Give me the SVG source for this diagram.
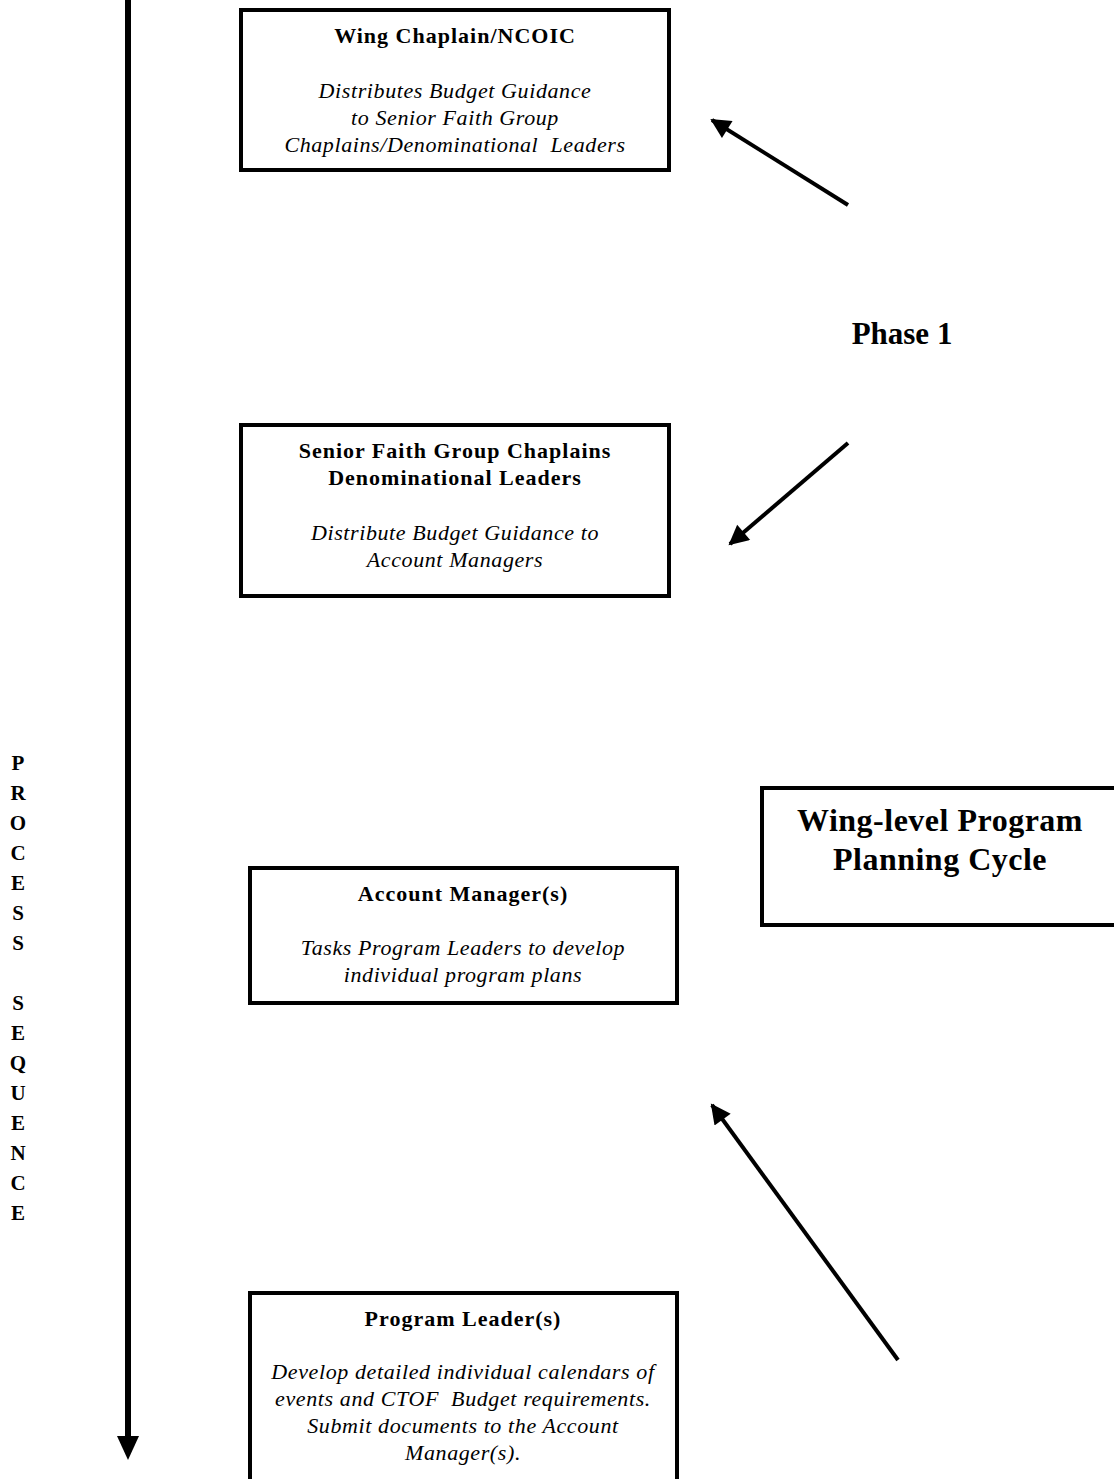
<svg xmlns="http://www.w3.org/2000/svg" width="1114" height="1479" viewBox="0 0 1114 1479">
<style>
.box{fill:#fff;stroke:#000;stroke-width:4}
.t{font-family:"Liberation Serif",serif;font-weight:bold;font-size:22px;letter-spacing:1px;text-anchor:middle;fill:#000}
.i{font-family:"Liberation Serif",serif;font-style:italic;font-size:22px;letter-spacing:0.6px;text-anchor:middle;fill:#000;white-space:pre}
.big{font-family:"Liberation Serif",serif;font-weight:bold;font-size:32px;letter-spacing:0.5px;text-anchor:middle;fill:#000}
.side{font-family:"Liberation Serif",serif;font-weight:bold;font-size:21px;text-anchor:middle;fill:#000}
.conn{stroke:#000;stroke-width:4;fill:none}
</style>
<defs>
<marker id="ah" viewBox="0 0 10 10" refX="9" refY="5" markerWidth="5.5" markerHeight="5" markerUnits="strokeWidth" orient="auto">
<path d="M0,0 L10,5 L0,10 z" fill="#000"/>
</marker>
</defs>
<rect width="1114" height="1479" fill="#fff"/>
<g id="connectors">
<line x1="128" y1="0" x2="128" y2="1438" stroke="#000" stroke-width="6"/>
<path d="M117,1436 L139,1436 L128,1460 z" fill="#000"/>
<line class="conn" x1="848" y1="205" x2="712" y2="120" marker-end="url(#ah)"/>
<line class="conn" x1="848" y1="443" x2="730" y2="544" marker-end="url(#ah)"/>
<line class="conn" x1="898" y1="1360" x2="712" y2="1105" marker-end="url(#ah)"/>
</g>
<g id="node-wing-chaplain">
<rect class="box" x="241" y="10" width="428" height="160"/>
<text class="t" x="455" y="43">Wing Chaplain/NCOIC</text>
<text class="i" x="455" y="98">Distributes Budget Guidance</text>
<text class="i" x="455" y="125">to Senior Faith Group</text>
<text class="i" x="455" y="152">Chaplains/Denominational  Leaders</text>
</g>
<g id="node-senior-faith">
<rect class="box" x="241" y="425" width="428" height="171"/>
<text class="t" x="455" y="458">Senior Faith Group Chaplains</text>
<text class="t" x="455" y="485">Denominational Leaders</text>
<text class="i" x="455" y="540">Distribute Budget Guidance to</text>
<text class="i" x="455" y="567">Account Managers</text>
</g>
<g id="node-account-manager">
<rect class="box" x="250" y="868" width="427" height="135"/>
<text class="t" x="463" y="901">Account Manager(s)</text>
<text class="i" x="463" y="955">Tasks Program Leaders to develop</text>
<text class="i" x="463" y="982">individual program plans</text>
</g>
<g id="node-program-leader">
<rect class="box" x="250" y="1293" width="427" height="190"/>
<text class="t" x="463" y="1326">Program Leader(s)</text>
<text class="i" x="463" y="1379">Develop detailed individual calendars of</text>
<text class="i" x="463" y="1406">events and CTOF  Budget requirements.</text>
<text class="i" x="463" y="1433">Submit documents to the Account</text>
<text class="i" x="463" y="1460">Manager(s).</text>
</g>
<g id="node-cycle">
<rect class="box" x="762" y="788" width="360" height="137"/>
<text class="big" x="940" y="831">Wing-level Program</text>
<text class="big" x="940" y="870">Planning Cycle</text>
</g>
<g id="label-phase1">
<text class="big" x="902" y="344" style="font-size:31px;letter-spacing:0">Phase 1</text>
</g>
<g id="label-process-sequence">
<text class="side" x="18" y="770">P</text>
<text class="side" x="18" y="800">R</text>
<text class="side" x="18" y="830">O</text>
<text class="side" x="18" y="860">C</text>
<text class="side" x="18" y="890">E</text>
<text class="side" x="18" y="920">S</text>
<text class="side" x="18" y="950">S</text>
<text class="side" x="18" y="1010">S</text>
<text class="side" x="18" y="1040">E</text>
<text class="side" x="18" y="1070">Q</text>
<text class="side" x="18" y="1100">U</text>
<text class="side" x="18" y="1130">E</text>
<text class="side" x="18" y="1160">N</text>
<text class="side" x="18" y="1190">C</text>
<text class="side" x="18" y="1220">E</text>
</g>
</svg>
